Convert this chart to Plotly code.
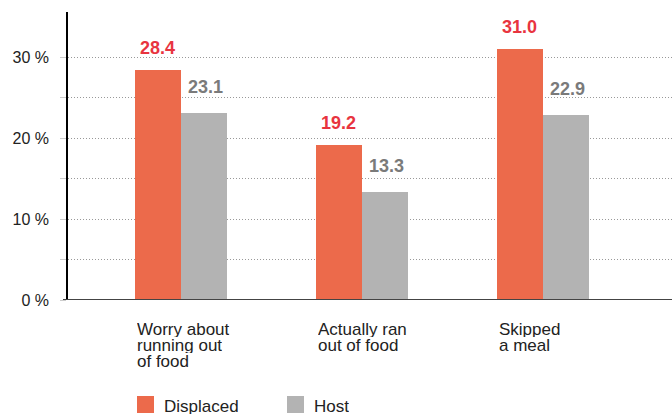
import plotly.graph_objects as go

categories = [["Worry about", "running out", "of food"],
              ["Actually ran", "out of food"],
              ["Skipped", "a meal"]]
displaced = [28.4, 19.2, 31.0]
host = [23.1, 13.3, 22.9]
tick_vals = [0, 10, 20, 30]
tick_text = ["0 %", "10 %", "20 %", "30 %"]
minor_vals = [5, 15, 25]
series_names = ["Displaced", "Host"]

C_DISP = "#EC6A4B"
C_HOST = "#B3B3B3"
C_DISP_LBL = "#E8343F"
C_HOST_LBL = "#7A7A7A"
FONT = "Liberation Sans"

W, H = 672, 414
L, R, T, B = 68, 0, 12, 114
PW, PH = W - L - R, H - T - B
BW = 46 / 181

def px_x(p):
    return (p - L) / PW

def px_y(p):
    return (H - B - p) / PH

xs = list(range(len(categories)))
fig = go.Figure()
fig.add_trace(go.Bar(x=xs, y=displaced, name=series_names[0], marker_color=C_DISP,
                     width=BW, offset=-BW, marker_line_width=0, hoverinfo="y"))
fig.add_trace(go.Bar(x=xs, y=host, name=series_names[1], marker_color=C_HOST,
                     width=BW, offset=0, marker_line_width=0, hoverinfo="y"))

ann = []
for i, lines in enumerate(categories):
    for j, line in enumerate(lines):
        ann.append(dict(x=i - BW, xref="x", y=px_y(329 + j * 16.2), yref="paper",
                        text=line, showarrow=False, xanchor="left", yanchor="middle",
                        height=16, font=dict(family=FONT, size=17, color="#222")))
for i, v in enumerate(displaced):
    ann.append(dict(x=i - BW / 2, y=v, xref="x", yref="y", text=f"{v:.1f}", showarrow=False,
                    xanchor="center", yanchor="middle", yshift=22,
                    font=dict(family=FONT, size=18, color=C_DISP_LBL, weight="bold")))
for i, v in enumerate(host):
    ann.append(dict(x=i, y=v, xref="x", yref="y", text=f"{v:.1f}", showarrow=False,
                    xanchor="left", yanchor="middle", yshift=26, xshift=5,
                    font=dict(family=FONT, size=18, color=C_HOST_LBL, weight="bold")))

# legend
shapes = []
for k, (name, col, sx) in enumerate([(series_names[0], C_DISP, 137), (series_names[1], C_HOST, 287)]):
    shapes.append(dict(type="rect", xref="paper", yref="paper",
                       x0=px_x(sx), x1=px_x(sx + 17), y0=px_y(413), y1=px_y(396),
                       fillcolor=col, line_width=0))
    ann.append(dict(x=px_x(sx + 25), y=px_y(405.5), xref="paper", yref="paper", text=name,
                    showarrow=False, xanchor="left", yanchor="middle", height=16,
                    font=dict(family=FONT, size=17, color="#222")))

# zero line
shapes.append(dict(type="line", xref="paper", yref="y", x0=px_x(63), x1=1, y0=0, y1=0,
                   line=dict(color="#444", width=2)))

fig.update_layout(
    width=W, height=H, margin=dict(l=L, r=R, t=T, b=B),
    paper_bgcolor="white", plot_bgcolor="white",
    showlegend=False, bargap=0,
    annotations=ann, shapes=shapes,
    xaxis=dict(range=[(L - 180.5) / 181 + 0, (W - 180.5) / 181], showgrid=False,
               showticklabels=False, zeroline=False, showline=False, fixedrange=True),
    yaxis=dict(range=[0, PH / 8.09], tickvals=tick_vals, ticktext=tick_text,
               showgrid=True, gridcolor="#999", griddash="1px,2px", gridwidth=1,
               minor=dict(tickvals=minor_vals, showgrid=True, gridcolor="#999", griddash="1px,2px",
                          ticks="outside", ticklen=6, tickcolor="#ccc"),
               ticks="outside", ticklen=6, tickcolor="#ccc", tickwidth=1,
               showline=True, linecolor="black", linewidth=1.5, zeroline=False,
               ticklabelstandoff=8,
               tickfont=dict(family=FONT, size=16, color="#222"), fixedrange=True),
    font=dict(family=FONT),
)

fig.write_html("out.html", config={"displayModeBar": False},
               post_script="document.body.style.margin='0';document.body.style.padding='0';")
